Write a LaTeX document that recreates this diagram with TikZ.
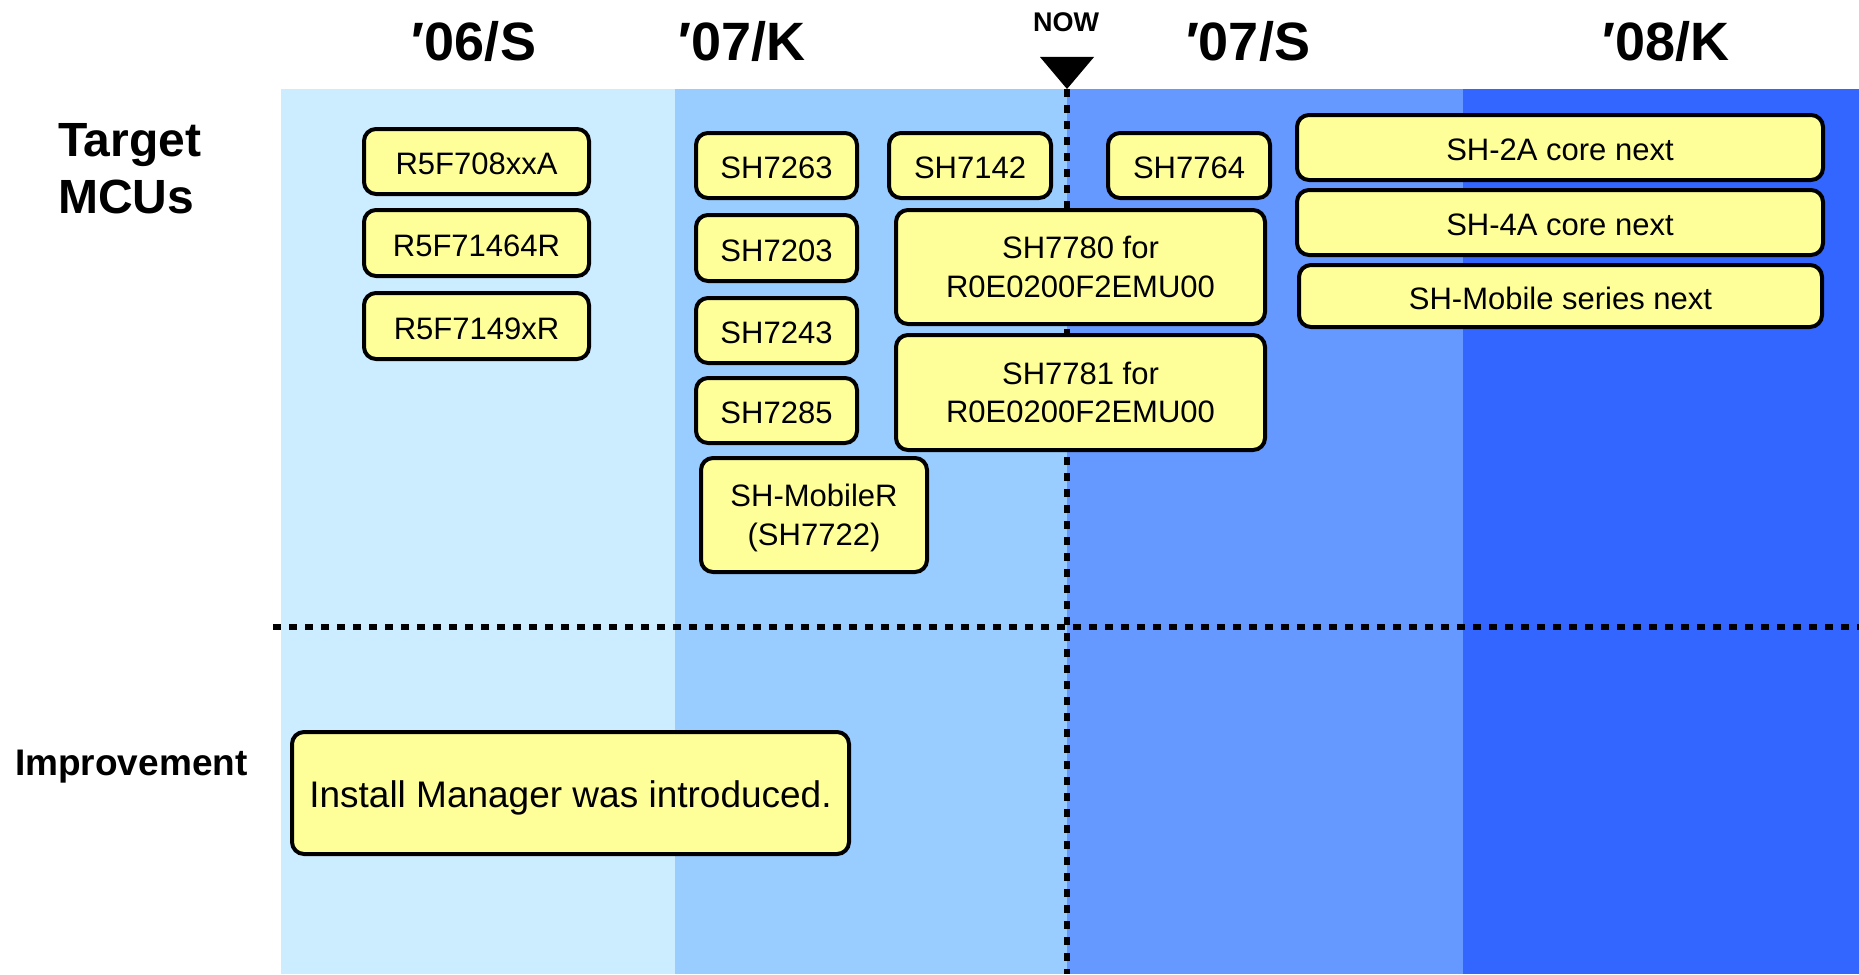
\documentclass[tikz,border=0pt]{standalone}
\usepackage{fontspec}
\setmainfont{Liberation Sans}
\definecolor{bandA}{HTML}{CCECFF}
\definecolor{bandB}{HTML}{99CCFF}
\definecolor{bandC}{HTML}{6699FF}
\definecolor{bandD}{HTML}{3366FF}
\definecolor{boxyellow}{HTML}{FFFF99}
\begin{document}
\begin{tikzpicture}[x=1pt,y=-1pt,
  box/.style={draw=black, line width=4pt, fill=boxyellow, rounded corners=12pt,
    inner sep=0pt, align=center, font=\fontsize{31}{38.5}\selectfont},
  oneline/.style={text height=26pt, text depth=0pt},
  hdr/.style={font=\bfseries\fontsize{54}{60}\selectfont, anchor=base, inner sep=0pt},
  dotline/.style={line width=6.5pt, dash pattern=on 8pt off 8pt}]
\useasboundingbox (0,0) rectangle (1859,974);
% background bands
\fill[bandA] (281,89) rectangle (675,974);
\fill[bandB] (675,89) rectangle (1067,974);
\fill[bandC] (1067,89) rectangle (1463,974);
\fill[bandD] (1463,89) rectangle (1859,974);
% headers
\node[hdr] (h1) at (474,60) {′06/S};
\node[hdr] (h2) at (742,60) {′07/K};
\node[hdr] (h3) at (1248,60) {′07/S};
\node[hdr] (h4) at (1666,60) {′08/K};
\node[font=\bfseries\fontsize{27}{30}\selectfont, anchor=base, inner sep=0pt] (now) at (1066,32) {NOW};
% NOW marker and lines
\coordinate (nowtip) at (1067,89);
\coordinate (nowbot) at (1067,974);
\fill[black] (1040,57) -- (1094,57) -- (nowtip) -- cycle;
\draw[dotline] (nowtip) -- (nowbot);
\coordinate (sepL) at (273,627);
\coordinate (sepR) at (1859,627);
\draw[dotline] (sepL) -- (sepR);
% row labels
\node[font=\bfseries\fontsize{48}{57}\selectfont, align=left, anchor=north west, inner sep=0pt] (tgt) at (58,123) {Target\\MCUs};
\node[font=\bfseries\fontsize{37}{44}\selectfont, anchor=base west, inner sep=0pt] (imp) at (15,775) {Improvement};
% boxes
\node[box, oneline, minimum width=225pt, minimum height=65pt] (r1) at (476.5,161.5) {R5F708xxA};
\node[box, oneline, minimum width=225pt, minimum height=66pt] (r2) at (476.5,243) {R5F71464R};
\node[box, oneline, minimum width=225pt, minimum height=66pt] (r3) at (476.5,326) {R5F7149xR};
\node[box, oneline, minimum width=161pt, minimum height=65pt] (s1) at (776.5,165.5) {SH7263};
\node[box, oneline, minimum width=161pt, minimum height=66pt] (s2) at (776.5,248) {SH7203};
\node[box, oneline, minimum width=161pt, minimum height=65pt] (s3) at (776.5,330.5) {SH7243};
\node[box, oneline, minimum width=161pt, minimum height=65pt] (s4) at (776.5,410.5) {SH7285};
\node[box, minimum width=226pt, minimum height=114pt] (s5) at (814,515) {SH-MobileR\\\smash{(SH7722)}};
\node[box, oneline, minimum width=162pt, minimum height=65pt] (s6) at (970,165.5) {SH7142};
\node[box, oneline, minimum width=162pt, minimum height=65pt] (s7) at (1189,165.5) {SH7764};
\node[box, minimum width=369pt, minimum height=114pt] (s8) at (1080.5,267) {SH7780 for\\R0E0200F2EMU00};
\node[box, minimum width=369pt, minimum height=115pt] (s9) at (1080.5,392.5) {SH7781 for\\R0E0200F2EMU00};
\node[box, oneline, minimum width=526pt, minimum height=65pt] (n1) at (1560,147.5) {SH-2A core next};
\node[box, oneline, minimum width=526pt, minimum height=65pt] (n2) at (1560,222.5) {SH-4A core next};
\node[box, oneline, minimum width=523pt, minimum height=62pt] (n3) at (1560.5,296) {SH-Mobile series next};
\node[box, minimum width=557pt, minimum height=122pt, font=\fontsize{37}{44}\selectfont, text height=28.5pt, text depth=0pt] (im) at (570.5,793) {Install Manager was introduced.};
\end{tikzpicture}
\end{document}
